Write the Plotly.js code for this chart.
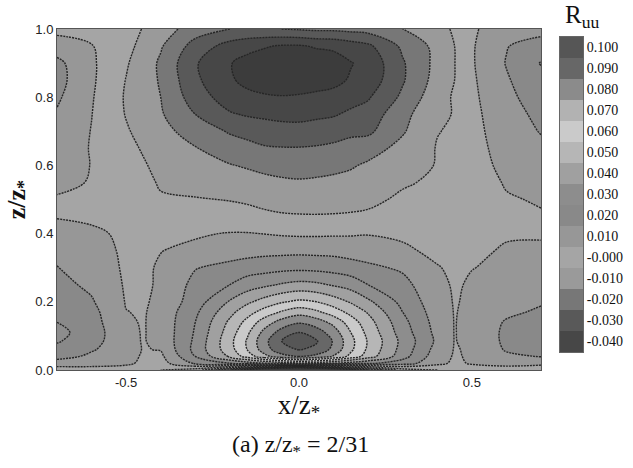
<!DOCTYPE html>
<html><head><meta charset="utf-8">
<script src="https://cdn.plot.ly/plotly-3.0.1.min.js"></script>
<style>html,body{margin:0;padding:0;background:#fff;}#chart{width:633px;height:468px;}</style>
</head><body><div id="chart"></div>
<script>
// grid coordinates (x/z*, z/z*)
const xVals = [-0.7,-0.6,-0.5,-0.45,-0.4,-0.3,-0.2,-0.15,-0.1,-0.05,0,0.05,0.1,0.15,0.2,0.3,0.4,0.45,0.5,0.6,0.7];
const yVals = [0,0.02,0.04,0.06,0.085,0.11,0.14,0.17,0.2,0.25,0.3,0.35,0.4,0.45,0.5,0.55,0.6,0.65,0.7,0.75,0.8,0.85,0.9,0.95,1.0];
// R_uu values, one row per yVals entry
const ruu = [
 [0.005,0.006,0.005,0.003,0.0,-0.005,-0.03,-0.045,-0.06,-0.072,-0.08,-0.072,-0.06,-0.045,-0.03,-0.005,0.0,0.003,0.005,0.006,0.005],
 [0.015,0.014,0.012,0.008,0.006,0.022,0.03,0.035,0.04,0.045,0.048,0.046,0.041,0.036,0.032,0.025,0.013,0.008,0.011,0.013,0.012],
 [0.024,0.018,0.013,0.009,0.008,0.03,0.052,0.064,0.077,0.086,0.091,0.087,0.079,0.067,0.055,0.034,0.014,0.0092,0.011,0.018,0.0205],
 [0.027,0.021,0.014,0.0095,0.0105,0.033,0.056,0.07,0.085,0.097,0.1005,0.098,0.087,0.072,0.058,0.036,0.016,0.0095,0.011,0.021,0.024],
 [0.031,0.024,0.0125,0.0095,0.0125,0.032,0.057,0.071,0.087,0.1,0.108,0.101,0.089,0.073,0.059,0.037,0.018,0.0097,0.012,0.022,0.026],
 [0.033,0.025,0.012,0.0095,0.0128,0.031,0.055,0.068,0.083,0.094,0.1,0.095,0.085,0.07,0.057,0.035,0.017,0.0097,0.0125,0.022,0.026],
 [0.03,0.024,0.011,0.0095,0.013,0.03,0.052,0.063,0.075,0.084,0.089,0.085,0.077,0.065,0.054,0.033,0.016,0.0097,0.0125,0.021,0.024],
 [0.027,0.023,0.0102,0.0093,0.013,0.028,0.047,0.056,0.064,0.071,0.076,0.072,0.065,0.057,0.049,0.03,0.015,0.0096,0.012,0.018,0.0215],
 [0.025,0.021,0.0095,0.009,0.012,0.025,0.041,0.048,0.054,0.059,0.062,0.06,0.055,0.049,0.042,0.027,0.014,0.0094,0.0115,0.016,0.019],
 [0.023,0.018,0.009,0.0088,0.011,0.023,0.03,0.035,0.038,0.041,0.043,0.042,0.039,0.036,0.03,0.023,0.0125,0.009,0.011,0.013,0.015],
 [0.0205,0.015,0.0088,0.0085,0.011,0.0195,0.023,0.025,0.026,0.027,0.0275,0.027,0.026,0.024,0.022,0.0185,0.0105,0.0085,0.0098,0.0115,0.0125],
 [0.016,0.013,0.0088,0.008,0.0098,0.012,0.015,0.016,0.017,0.0172,0.0175,0.0172,0.017,0.016,0.015,0.0115,0.008,0.0075,0.009,0.0105,0.0108],
 [0.012,0.011,0.009,0.0075,0.006,0.009,0.0105,0.0105,0.0098,0.009,0.0085,0.0085,0.0088,0.009,0.0095,0.0085,0.0065,0.0065,0.0085,0.0095,0.0095],
 [0.0097,0.009,0.0075,0.006,0.004,0.003,0.003,0.0025,0.0018,0.001,0.0007,0.0006,0.0007,0.001,0.0015,0.004,0.004,0.005,0.008,0.009,0.0095],
 [0.0092,0.008,0.008,0.0045,0.001,0.0005,-0.0003,-0.001,-0.0025,-0.0035,-0.004,-0.004,-0.0035,-0.003,-0.002,0.0015,0.003,0.004,0.0075,0.0095,0.0105],
 [0.012,0.0095,0.006,0.0025,-0.001,-0.003,-0.005,-0.006,-0.0075,-0.0085,-0.009,-0.0085,-0.0078,-0.007,-0.005,-0.001,0.0015,0.003,0.007,0.0105,0.0125],
 [0.0135,0.0098,0.005,0.001,-0.003,-0.006,-0.0095,-0.011,-0.0125,-0.0135,-0.014,-0.0135,-0.0125,-0.011,-0.0085,-0.004,0.0005,0.0025,0.0068,0.012,0.015],
 [0.015,0.0095,0.003,-0.001,-0.005,-0.0095,-0.015,-0.017,-0.019,-0.0195,-0.0195,-0.019,-0.018,-0.0165,-0.014,-0.007,0.0005,0.002,0.0068,0.0135,0.018],
 [0.017,0.0097,0.001,-0.003,-0.007,-0.014,-0.021,-0.023,-0.025,-0.026,-0.0265,-0.0255,-0.024,-0.022,-0.022,-0.011,-0.0003,0.001,0.007,0.015,0.0205],
 [0.019,0.0102,-0.0005,-0.0045,-0.009,-0.02,-0.029,-0.031,-0.032,-0.033,-0.033,-0.032,-0.031,-0.028,-0.026,-0.013,-0.002,0.0005,0.0075,0.016,0.0225],
 [0.0215,0.0108,-0.001,-0.005,-0.01,-0.025,-0.035,-0.038,-0.039,-0.0395,-0.039,-0.038,-0.037,-0.034,-0.031,-0.018,-0.0035,0.001,0.008,0.0175,0.025],
 [0.0235,0.0115,-0.0003,-0.0055,-0.011,-0.028,-0.039,-0.042,-0.044,-0.045,-0.045,-0.044,-0.0425,-0.039,-0.036,-0.021,-0.006,0.0,0.0085,0.019,0.027],
 [0.0225,0.0115,0.001,-0.005,-0.0115,-0.029,-0.0395,-0.043,-0.046,-0.047,-0.047,-0.046,-0.0445,-0.0405,-0.037,-0.021,-0.007,-0.0002,0.009,0.0205,0.0305],
 [0.015,0.0105,0.003,-0.003,-0.009,-0.024,-0.034,-0.037,-0.039,-0.041,-0.041,-0.039,-0.038,-0.035,-0.032,-0.018,-0.007,0.0,0.009,0.0195,0.025],
 [0.007,0.006,0.004,-0.0005,-0.005,-0.015,-0.02,-0.021,-0.021,-0.02,-0.019,-0.018,-0.018,-0.017,-0.016,-0.01,-0.004,0.0015,0.0085,0.016,0.016]
];
// legend levels (values) and their labels, top swatch = last
const levelValues = [-0.04,-0.03,-0.02,-0.01,0.0,0.01,0.02,0.03,0.04,0.05,0.06,0.07,0.08,0.09,0.10];
const levelLabels = ['-0.040','-0.030','-0.020','-0.010','-0.000','0.010','0.020','0.030','0.040','0.050','0.060','0.070','0.080','0.090','0.100'];
// swatch colours (band from level to next level)
const swatchColors = ['#474747','#595959','#777777','#9a9a9a','#a5a5a5','#979797','#898989','#8d8d8d','#a0a0a0','#b6b6b6','#cacaca','#b2b2b2','#8b8b8b','#676767','#565656'];
const belowColor = '#3c3c3c';
const xTicks = [-0.5,0,0.5], xTickText = ['-0.5','0.0','0.5'];
const yTicks = [0,0.2,0.4,0.6,0.8,1.0], yTickText = ['0.0','0.2','0.4','0.6','0.8','1.0'];

const bandColors = [belowColor].concat(swatchColors); // 16 bands
const nb = bandColors.length - 1;
const contourScale = bandColors.map((c,i)=>[i/nb, c]);
const ns = swatchColors.length - 1;
const swatchScale = swatchColors.map((c,i)=>[i/ns, c]);

const serif = 'Liberation Serif, Times New Roman, serif';
const sans = 'Liberation Sans, Arial, sans-serif';

const contour = {
  type:'contour', x:xVals, y:yVals, z:ruu,
  autocontour:false,
  contours:{start:levelValues[0], end:levelValues[levelValues.length-1], size:0.01, coloring:'fill'},
  colorscale:contourScale, showscale:false,
  line:{color:'#262626', width:1.4, dash:'2px,1px', smoothing:1},
  xaxis:'x', yaxis:'y', hoverinfo:'skip'
};
const legendBar = {
  type:'heatmap', x:[0], y:levelValues.map((v,i)=>i),
  z:levelValues.map((v,i)=>[i]),
  zmin:0, zmax:levelValues.length-1,
  colorscale:swatchScale, showscale:false,
  xaxis:'x2', yaxis:'y2', hoverinfo:'skip'
};
const W = 633, H = 468, L = 57, R = 50, T = 29, B = 98;
const pw = W-L-R, ph = H-T-B;
const layout = {
  width:W, height:H, margin:{l:L, r:R, t:T, b:B},
  paper_bgcolor:'#fff', plot_bgcolor:'#fff', showlegend:false,
  xaxis:{domain:[0,484/pw], range:[-0.7,0.7], tickvals:xTicks, ticktext:xTickText,
    showgrid:false, zeroline:false, showline:true, mirror:true, linecolor:'#555', linewidth:1,
    ticks:'', tickfont:{family:sans, size:13, color:'#222'},
    title:{text:'x/z<sub>*</sub>', font:{family:serif, size:27, color:'#111'}, standoff:4}},
  yaxis:{domain:[0,1], range:[0,1], tickvals:yTicks, ticktext:yTickText,
    showgrid:false, zeroline:false, showline:true, mirror:true, linecolor:'#555', linewidth:1,
    ticks:'', tickfont:{family:sans, size:13, color:'#222'},
    title:{text:'<b>z/z<sub>*</sub></b>', font:{family:serif, size:26, color:'#111'}, standoff:2}},
  xaxis2:{domain:[(560-L)/pw, (583-L)/pw], range:[-0.5,0.5], anchor:'y2', showticklabels:false,
    showgrid:false, zeroline:false, showline:true, mirror:true, linecolor:'#666', ticks:''},
  yaxis2:{domain:[(T+ph-352)/ph, (T+ph-37)/ph], range:[-0.5, levelValues.length-0.5], anchor:'x2', side:'right',
    tickvals:levelValues.map((v,i)=>i), ticktext:levelLabels, showgrid:false, zeroline:false,
    showline:true, mirror:true, linecolor:'#666', ticks:'', tickfont:{family:serif, size:14, color:'#111'}},
  annotations:[
    {text:'R<sub>uu</sub>', xref:'paper', yref:'paper', x:(582-L)/pw, y:(T+ph-16)/ph, xanchor:'center', yanchor:'middle',
     showarrow:false, font:{family:serif, size:25, color:'#111'}},
    {text:'(a) z/z<sub>*</sub> = 2/31', xref:'paper', yref:'paper', x:(300-L)/pw, y:(T+ph-446)/ph, xanchor:'center', yanchor:'middle',
     showarrow:false, font:{family:serif, size:24, color:'#111'}}
  ]
};
Plotly.newPlot('chart',[contour, legendBar], layout, {displayModeBar:false, staticPlot:true});
</script></body></html>
